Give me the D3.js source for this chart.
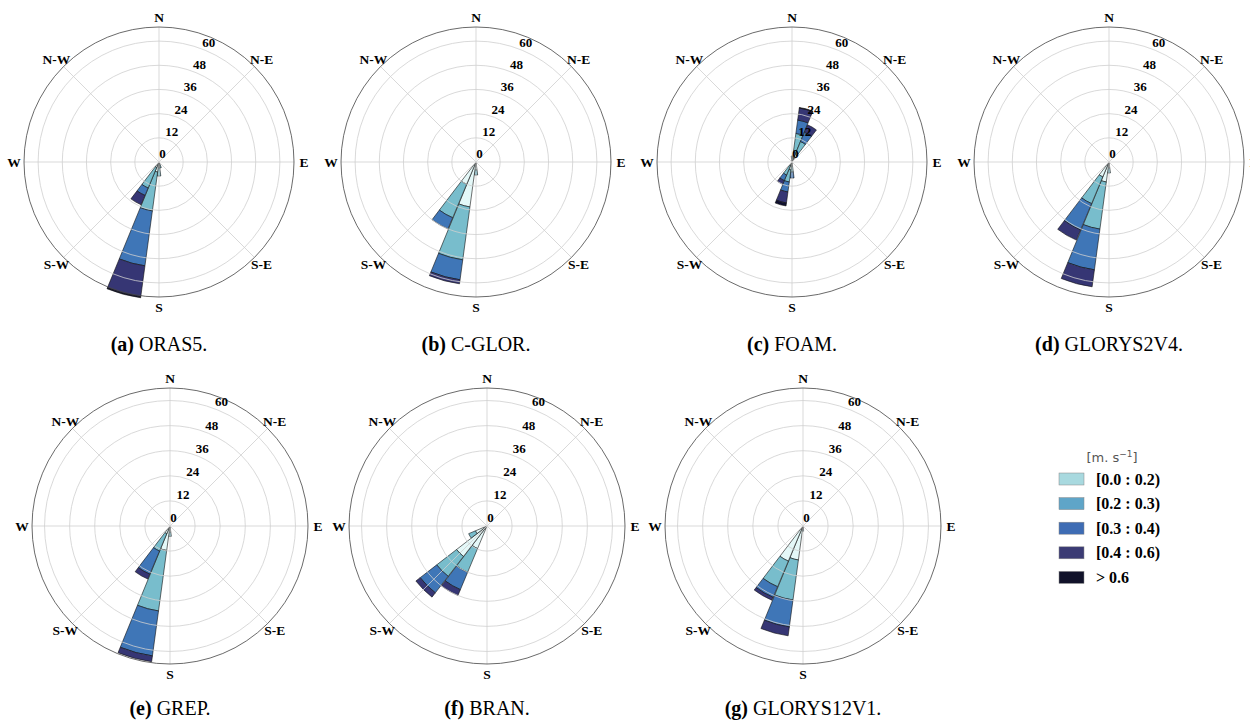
<!DOCTYPE html>
<html>
<head>
<meta charset="utf-8">
<script src="https://cdn.jsdelivr.net/npm/d3@7"></script>
<style>
  body { margin: 0; background: #fff; }
  svg { display: block; }
</style>
</head>
<body>
<script>
// speed bins (legend) and wind rose values, % per 15 degree sector
var binLabels = ["[0.0 : 0.2)", "[0.2 : 0.3)", "[0.3 : 0.4)", "[0.4 : 0.6)", "> 0.6"];
var tickValues = [0, 12, 24, 36, 48, 60];
var dirLabels = ["N", "N-E", "E", "S-E", "S", "S-W", "W", "N-W"];
var letters = ["(a)", "(b)", "(c)", "(d)", "(e)", "(f)", "(g)"];
var names = ["ORAS5.", "C-GLOR.", "FOAM.", "GLORYS2V4.", "GREP.", "BRAN.", "GLORYS12V1."];

// [direction, bin0, bin1, bin2, bin3, bin4]
var oras5 = [[165, 1.5, 1.5, 0, 0, 0], [180, 3, 4, 0, 0, 0], [195, 5, 19.5, 27.5, 15.5, 0.5], [210, 3, 11, 4, 5, 0]];
var cglor = [[180, 4, 2.5, 0, 0, 0], [195, 22.5, 26.5, 10, 2, 0], [210, 12, 18, 6, 0, 0]];
var foam = [[0, 2, 1, 0, 0, 0], [15, 4.7, 9.6, 6.7, 6, 0.3], [30, 4, 7, 5, 4, 0], [180, 2, 3, 3, 0, 0],
            [195, 4, 6, 5, 5.5, 1.5], [210, 2, 5, 3, 2, 0]];
var glorys2v4 = [[180, 3, 2.5, 0, 0, 0], [195, 10, 23.6, 20.4, 8.5, 0], [210, 8, 14.4, 14.2, 5.4, 0]];
var grep = [[180, 3, 2, 0, 0, 0], [195, 11.8, 29.2, 21.7, 2.8, 0], [210, 4, 9, 12, 2.5, 0]];
var bran = [[210, 11.7, 12.3, 9, 3, 0], [225, 18.4, 12, 10, 2.6, 0], [240, 6, 3.5, 0, 0, 0]];
var glorys12v1 = [[180, 1.5, 1, 0, 0, 0], [195, 16.4, 19.3, 13, 4.3, 0], [210, 18.2, 13.3, 5.5, 1.5, 0]];

var panels = [oras5, cglor, foam, glorys2v4, grep, bran, glorys12v1];

var roseColors = ["#e4f8f8", "#78bdcc", "#3f76b7", "#363674", "#0f1030"];
var legendColors = ["#a8d9df", "#5fa5c8", "#3e6cb4", "#3b3b74", "#11122a"];

var centers = [[159, 162], [476, 162], [792, 162], [1109, 162], [170, 526], [487, 526], [803, 526]];
var serif = "'Liberation Serif', 'Times New Roman', serif";

var svg = d3.select("body")
	.append("svg")
	.attr("width", 1250)
	.attr("height", 720);

var sectorHalf = 7.3 * Math.PI / 180;

panels.forEach(function(rows, p) {
	var top = p < 4;
	var R = top ? 135 : 138;
	var rmax = top ? 67 : 66;
	var r = d3.scaleLinear().domain([0, rmax]).range([0, R]);

	var g = svg.append("g")
		.attr("transform", "translate(" + centers[p][0] + "," + centers[p][1] + ")");

	// stacked bars
	var segs = [];
	rows.forEach(function(row) {
		var a = row[0] * Math.PI / 180;
		var cum = 0;
		for (var b = 0; b < 5; b++) {
			var v = row[b + 1];
			if (v > 0) segs.push({ a: a, r0: cum, r1: cum + v, bin: b });
			cum += v;
		}
	});

	var arc = d3.arc()
		.innerRadius(function(d) { return r(d.r0); })
		.outerRadius(function(d) { return r(d.r1); })
		.startAngle(function(d) { return d.a - sectorHalf; })
		.endAngle(function(d) { return d.a + sectorHalf; });

	g.selectAll("path.bar")
		.data(segs)
		.enter()
		.append("path")
		.attr("class", "bar")
		.attr("d", arc)
		.attr("fill", function(d) { return roseColors[d.bin]; })
		.attr("stroke", "#111")
		.attr("stroke-width", 0.6);

	// grid on top of bars (matplotlib style)
	g.selectAll("circle.ring")
		.data(tickValues.slice(1))
		.enter()
		.append("circle")
		.attr("class", "ring")
		.attr("r", function(d) { return r(d); })
		.attr("fill", "none")
		.attr("stroke", "#cfcfcf")
		.attr("stroke-width", 0.8);

	g.selectAll("line.spoke")
		.data(d3.range(8))
		.enter()
		.append("line")
		.attr("class", "spoke")
		.attr("x1", 0)
		.attr("y1", 0)
		.attr("x2", function(i) { return R * Math.sin(i * Math.PI / 4); })
		.attr("y2", function(i) { return -R * Math.cos(i * Math.PI / 4); })
		.attr("stroke", "#cfcfcf")
		.attr("stroke-width", 0.8);

	g.append("circle")
		.attr("r", R)
		.attr("fill", "none")
		.attr("stroke", "#444")
		.attr("stroke-width", 0.8);

	// radial tick labels along 22.5 deg
	var la = 22.5 * Math.PI / 180;
	g.selectAll("text.tick")
		.data(tickValues)
		.enter()
		.append("text")
		.attr("class", "tick")
		.attr("x", function(d) { return Math.sin(la) * (r(d) + 9); })
		.attr("y", function(d) { return -Math.cos(la) * (r(d) + 9); })
		.attr("dy", "0.35em")
		.attr("text-anchor", "middle")
		.attr("font-family", serif)
		.attr("font-weight", "bold")
		.attr("font-size", "13px")
		.text(function(d) { return d; });

	g.selectAll("text.dir")
		.data(dirLabels)
		.enter()
		.append("text")
		.attr("class", "dir")
		.attr("x", function(d, i) { return (R + 10) * Math.sin(i * Math.PI / 4); })
		.attr("y", function(d, i) { return -(R + 10) * Math.cos(i * Math.PI / 4); })
		.attr("dy", "0.35em")
		.attr("text-anchor", "middle")
		.attr("font-family", serif)
		.attr("font-weight", "bold")
		.attr("font-size", "13.5px")
		.text(function(d) { return d; });

	// caption
	var cap = svg.append("text")
		.attr("x", centers[p][0])
		.attr("y", top ? 351 : 715)
		.attr("text-anchor", "middle")
		.attr("font-family", serif)
		.attr("font-size", "20px");
	cap.append("tspan").attr("font-weight", "bold").text(letters[p]);
	cap.append("tspan").text(" " + names[p]);
});

// legend
var lg = svg.append("g");
var title = lg.append("text")
	.attr("x", 1112)
	.attr("y", 462)
	.attr("text-anchor", "middle")
	.attr("font-family", "'DejaVu Sans', sans-serif")
	.attr("font-size", "13px")
	.attr("fill", "#555");
title.append("tspan").text("[m. s");
title.append("tspan").attr("dy", "-5").attr("font-size", "9px").text("\u22121");
title.append("tspan").attr("dy", "5").text("]");

lg.selectAll("rect")
	.data(binLabels)
	.enter()
	.append("rect")
	.attr("x", 1059)
	.attr("y", function(d, i) { return 473 + i * 24.6; })
	.attr("width", 25)
	.attr("height", 12)
	.attr("fill", function(d, i) { return legendColors[i]; })
	.attr("stroke", "#888")
	.attr("stroke-width", 0.5);

lg.selectAll("text.item")
	.data(binLabels)
	.enter()
	.append("text")
	.attr("class", "item")
	.attr("x", 1096)
	.attr("y", function(d, i) { return 479 + i * 24.6; })
	.attr("dy", "0.35em")
	.attr("font-family", serif)
	.attr("font-weight", "bold")
	.attr("font-size", "16px")
	.text(function(d) { return d; });
</script>
</body>
</html>
